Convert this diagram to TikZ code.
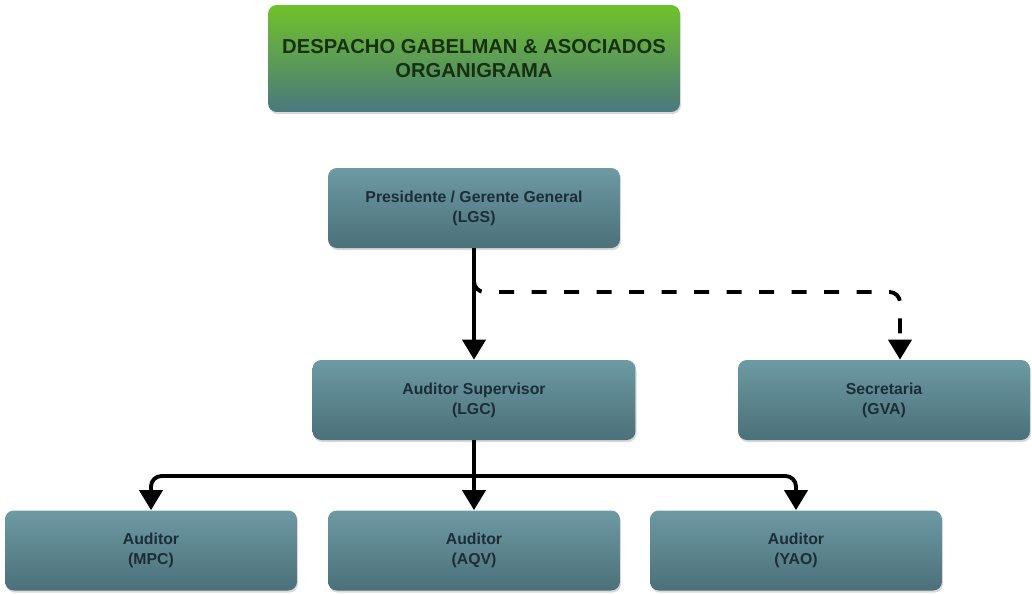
\documentclass[tikz,border=0pt]{standalone}
\usepackage{fontspec}
\setmainfont{Liberation Sans}
\usetikzlibrary{arrows.meta,shadows}

\definecolor{boxtop}{HTML}{6D9AA3}
\definecolor{boxbot}{HTML}{4B7079}
\definecolor{boxtext}{HTML}{1C2D36}
\definecolor{titletop}{HTML}{6FC22A}
\definecolor{titlemid}{HTML}{5E9F48}
\definecolor{titlebot}{HTML}{4A787F}
\definecolor{titletext}{HTML}{17300F}

\begin{document}
\begin{tikzpicture}[x=0.02cm,y=-0.02cm,>={Triangle[length=4mm,width=4.6mm]},
  box/.style={rectangle,rounded corners=5pt,top color=boxtop,bottom color=boxbot,
    minimum width=5.84cm,minimum height=1.6cm,align=center,text=boxtext,
    font=\bfseries\fontsize{9}{11.3}\selectfont,
    drop shadow={opacity=0.3,shadow xshift=0.6pt,shadow yshift=-1.2pt}},
  link/.style={draw=black,line width=2.2pt,rounded corners=6pt}]
  \useasboundingbox (0,0) rectangle (1032,593);

  % titulo
  \node[box,top color=titletop,middle color=titlemid,bottom color=titlebot,
    minimum width=8.24cm,minimum height=2.14cm,text=titletext,
    font=\bfseries\fontsize{11.5}{13.6}\selectfont] (title) at (474,58.5)
    {DESPACHO GABELMAN \& ASOCIADOS\\ORGANIGRAMA};

  % cajas
  \node[box] (pres) at (474,208) {Presidente / Gerente General\\(LGS)};
  \node[box,minimum width=6.46cm] (sup) at (474,400) {Auditor Supervisor\\(LGC)};
  \node[box] (sec) at (884,400) {Secretaria\\(GVA)};
  \node[box] (mpc) at (151,550.5) {Auditor\\(MPC)};
  \node[box] (aqv) at (474,550.5) {Auditor\\(AQV)};
  \node[box] (yao) at (796,550.5) {Auditor\\(YAO)};

  \coordinate (split) at (474,280);
  \coordinate (fork) at (474,476);

  % conectores
  \draw[link,->] (pres) -- (sup);
  \draw[link,dash pattern=on 8.5pt off 10pt,->] (split) |- (700,292) -| ([xshift=3.2mm]sec.north);
  \draw[link,->] (sup) -- (aqv);
  \draw[link,->] (fork) -| (mpc.north);
  \draw[link,->] (fork) -| (yao.north);
\end{tikzpicture}
\end{document}
